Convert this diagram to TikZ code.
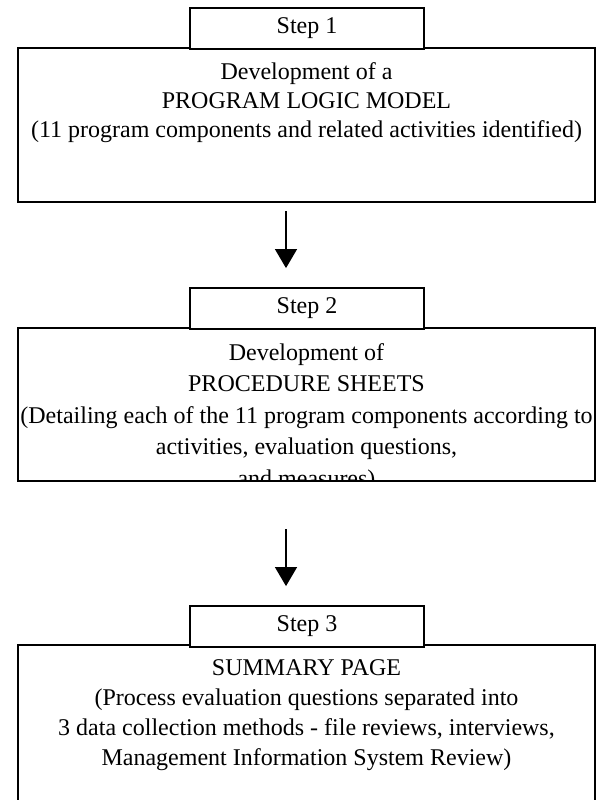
\documentclass[tikz,border=0pt]{standalone}
\usepackage{fontspec}
\setmainfont{Liberation Serif}
\usetikzlibrary{arrows.meta, positioning}

\begin{document}
\begin{tikzpicture}[
    x=1pt, y=1pt,
    >={Triangle[length=19pt, width=22pt]},
    stepbox/.style={draw, line width=1.8pt, fill=white, minimum width=234pt, minimum height=41pt, inner sep=0pt},
    mainbox/.style={draw, line width=1.8pt, anchor=north west, minimum width=577pt, inner sep=0pt, outer sep=0pt},
    boxtext/.style={align=center, anchor=north, inner sep=0pt},
    flow/.style={->, line width=1.2pt},
    every node/.style={font=\fontsize{24}{29}\selectfont},
]
    \useasboundingbox (0,0) rectangle (607,-800);
    \clip (0,0) rectangle (607,-800);

    % Step 1
    \node[mainbox, minimum height=154pt] (model) at (18,-48) {};
    \node[stepbox] (step1) at (307,-28.5) {Step 1};
    \node[boxtext, below=14pt of model.north] (modeltext) {Development of a\\PROGRAM LOGIC MODEL\\(11 program components and related activities identified)};

    % Step 2
    \node[mainbox, minimum height=153pt] (sheets) at (18,-328) {};
    \node[stepbox] (step2) at (307,-308.5) {Step 2};
    \begin{scope}
        \clip (sheets.north west) rectangle (sheets.south east);
        \node[boxtext, below=15pt of sheets.north, font=\fontsize{24}{31.5}\selectfont] (sheetstext) {Development of\\PROCEDURE SHEETS\\(Detailing each of the 11 program components according to\\activities, evaluation questions,\\and measures)};
    \end{scope}

    % Step 3
    \node[mainbox, minimum height=170pt] (summary) at (18,-645) {};
    \node[stepbox] (step3) at (307,-626.5) {Step 3};
    \node[boxtext, below=14pt of summary.north, font=\fontsize{24}{30}\selectfont] (summarytext) {SUMMARY PAGE\\(Process evaluation questions separated into\\3 data collection methods - file reviews, interviews,\\Management Information System Review)};

    % arrows
    \draw[flow] ([xshift=-20.5pt, yshift=-9pt]model.south) -- ([xshift=-21pt, yshift=19pt]step2.north);
    \draw[flow] ([xshift=-20.5pt, yshift=-48pt]sheets.south) -- ([xshift=-21pt, yshift=19pt]step3.north);
\end{tikzpicture}
\end{document}
